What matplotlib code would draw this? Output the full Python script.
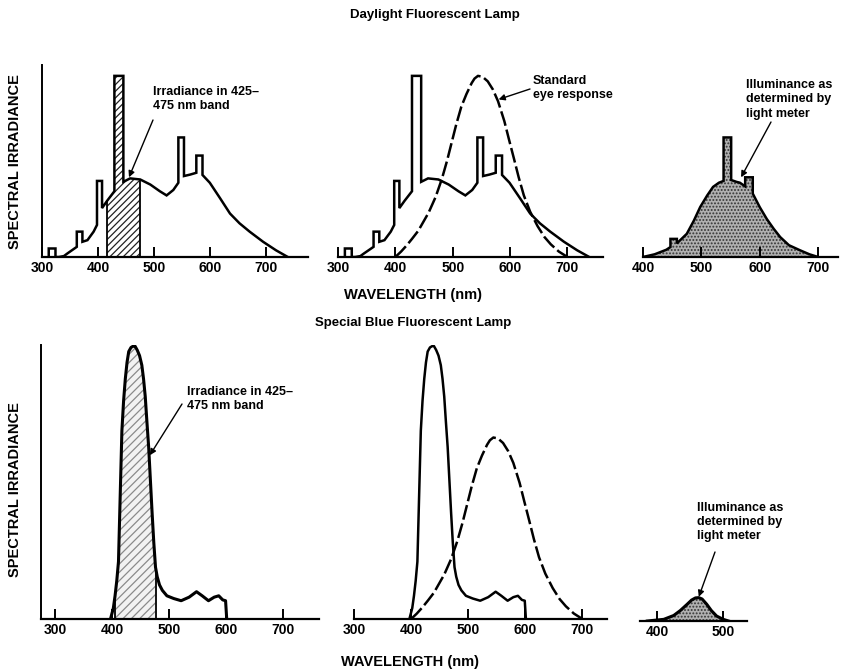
import numpy as np
import matplotlib
matplotlib.use('Agg')
import matplotlib.pyplot as plt

plt.rcParams['font.family'] = ['Liberation Sans Narrow', 'Liberation Sans', 'DejaVu Sans']
plt.rcParams['font.weight'] = 'bold'
plt.rcParams['hatch.linewidth'] = 0.9

# ---- data (wavelength in nm, relative irradiance) ----
# daylight fluorescent lamp (mercury lines show as narrow spikes)
day_wl = [312, 312, 324, 324, 330, 339, 345, 362, 362, 372, 372, 381, 392, 398, 398,
          407, 407, 416, 429, 429, 445, 445, 457, 475, 493, 510, 522, 534, 543, 543,
          553, 553, 564, 575, 575, 586, 586, 599, 617, 635, 652, 670, 694, 717, 738]
day_irr = [0, 4.7, 4.7, 0, 0, 0.5, 1.9, 5.6, 14, 14, 8.4, 9.3, 14, 17.7, 42,
           42, 27, 31, 36.3, 100, 100, 41.5, 43.4, 42.8, 40, 36.3, 34, 37, 41, 66,
           66, 44.7, 45.5, 46.5, 56, 56, 45.3, 41, 32.6, 24, 18.6, 14, 8.4, 3.7, 0]

# standard eye response (hand drawn, peak = 100)
eye_wl = [400, 410, 420, 429, 440, 458, 470, 481, 490, 498, 506, 515, 524, 533, 538,
          544, 552, 561, 570, 579, 590, 598, 607, 615, 624, 635, 648, 660, 671, 685, 700]
eye_val = [0, 3, 6.5, 10, 14.5, 24.5, 33, 43, 53, 63, 73, 83, 90, 96, 98.5,
           100, 99.5, 97, 92.5, 86, 75, 65, 54, 44, 34, 25, 17, 11, 7, 3, 0]

# eye-weighted daylight spectrum (what the light meter sees)
day_meter_wl = [400, 420, 440, 447, 447, 458, 458, 475, 487, 498, 510, 520, 530, 538, 538,
                551, 551, 560, 566, 575, 575, 588, 588, 600, 612, 624, 635, 650, 669, 685, 700]
day_meter_val = [0, 1.5, 4, 5.5, 10, 10, 7.5, 12.8, 20, 27.6, 34, 38.7, 41, 42, 66,
                 66, 42.5, 41.5, 41, 39, 44, 44, 35, 27.5, 21, 15.5, 11, 6.5, 3.7, 1.5, 0]

# special blue fluorescent lamp
blue_wl = [397, 402, 405, 408, 411, 414, 417, 420, 423, 426, 429, 433, 437, 440, 444,
           448, 452, 455, 458, 461, 464, 467, 470, 473, 476, 479, 483, 488, 496, 508,
           521, 535, 548, 558, 569, 579, 587, 594, 599, 601]
blue_irr = [0, 4, 8.5, 14, 21, 45, 69, 80, 88, 94, 98, 99.5, 100, 100, 98.5,
            96.5, 93, 88, 81.5, 72, 63, 51, 39, 28, 19, 15.5, 12.5, 10.5, 8.5, 7.5,
            6.7, 8, 10, 8.5, 6.7, 8, 8.5, 7, 6.7, 0]

blue_meter_wl = [385, 410, 425, 435, 445, 452, 458, 463, 468, 475, 482, 490, 500, 508]
blue_meter_val = [0, 0.6, 2, 3.8, 6, 7.6, 8.4, 8.5, 8, 6.1, 3.8, 1.8, 0.6, 0]

day_band = (416, 475)
blue_band = (405, 476)
eye_scale_day = 1.0
eye_scale_blue = 0.665

ticks_full = [300, 400, 500, 600, 700]

W, H = 854, 670
fig = plt.figure(figsize=(W / 100, H / 100), dpi=100)
plain = ['Liberation Sans', 'DejaVu Sans']


def make_axes(left, right, base, top, xlim, ylim, ticks, yaxis=False):
    ax = fig.add_axes([left / W, (H - base) / H, (right - left) / W, (base - top) / H])
    ax.set_xlim(*xlim)
    ax.set_ylim(*ylim)
    for s in ['top', 'right']:
        ax.spines[s].set_visible(False)
    ax.spines['left'].set_visible(yaxis)
    ax.spines['bottom'].set_linewidth(1.6)
    ax.spines['left'].set_linewidth(1.4)
    ax.set_yticks([])
    ax.set_xticks(ticks)
    ax.tick_params(axis='x', direction='in', length=7, width=1.4, pad=3, labelsize=10)
    for lab in ax.get_xticklabels():
        lab.set_fontweight('bold')
    ax.patch.set_alpha(0)
    return ax


def band_fill(ax, wl, val, band, **kw):
    wl = np.asarray(wl, float)
    val = np.asarray(val, float)
    m = (wl >= band[0]) & (wl <= band[1])
    x = np.concatenate([[band[0]], wl[m], [band[1]]])
    y = np.concatenate([[np.interp(band[0], wl, val)], val[m], [np.interp(band[1], wl, val)]])
    ax.fill_between(x, 0, y, **kw)
    ax.vlines([band[0], band[1]], 0, [y[0], y[-1]], color='black', lw=1.3)


def arrow(ax, xy, tail):
    ax.annotate('', xy=xy, xycoords='data', xytext=(tail[0], H - tail[1]),
                textcoords='figure pixels',
                arrowprops=dict(arrowstyle='-|>', color='black', lw=1.0,
                                mutation_scale=9, shrinkA=0, shrinkB=0))


def note(x, y, s):
    fig.text(x / W, (H - y) / H, s, ha='left', va='top', fontsize=9,
             fontweight='bold', linespacing=1.25)


lw = 1.8
dash = (0, (6, 1.6))

# ---------------- top row: daylight lamp ----------------
ax1 = make_axes(42, 308, 257, 65, (300, 774), (0, 106), ticks_full, yaxis=True)
band_fill(ax1, day_wl, day_irr, day_band, facecolor='white', edgecolor='#222222',
          hatch='/////', linewidth=0)
ax1.plot(day_wl, day_irr, color='black', lw=lw, solid_joinstyle='miter')
arrow(ax1, (455, 44), (153, 120))
note(153, 86, 'Irradiance in 425–\n475 nm band')

ax2 = make_axes(338, 603, 257, 65, (305, 762), (0, 106), ticks_full)
ax2.plot(day_wl, day_irr, color='black', lw=lw, solid_joinstyle='miter')
ax2.plot(eye_wl, np.array(eye_val) * eye_scale_day, color='black', lw=lw, linestyle=dash)
arrow(ax2, (580, 87), (530, 89))
note(533, 75, 'Standard\neye response')

ax3 = make_axes(643, 838, 257, 65, (400, 734), (0, 106), [400, 500, 600, 700])
ax3.fill_between(day_meter_wl, 0, day_meter_val, facecolor='#b0b0b0',
                 edgecolor='#333333', hatch='.....', linewidth=0)
ax3.plot(day_meter_wl, day_meter_val, color='black', lw=lw, solid_joinstyle='miter')
arrow(ax3, (568, 44), (771, 122))
note(746, 79, 'Illuminance as\ndetermined by\nlight meter')

fig.text(435 / W, (H - 15) / H, 'Daylight Fluorescent Lamp', ha='center', va='center',
         fontsize=9.5, fontweight='bold', family=plain)
fig.text(413 / W, (H - 295) / H, 'WAVELENGTH (nm)', ha='center', va='center',
         fontsize=10.5, fontweight='bold', family=plain)
fig.text(15 / W, (H - 162) / H, 'SPECTRAL IRRADIANCE', ha='center', va='center',
         rotation=90, fontsize=10.5, fontweight='bold', family=plain)

# ---------------- bottom row: special blue lamp ----------------
ax4 = make_axes(41, 319, 619, 345, (275, 763), (0, 100.4), ticks_full, yaxis=True)
band_fill(ax4, blue_wl, blue_irr, blue_band, facecolor='#f2f2f2', edgecolor='#8a8a8a',
          hatch='////', linewidth=0)
ax4.plot(blue_wl, blue_irr, color='black', lw=lw + 0.4)
arrow(ax4, (466, 60), (182, 404))
note(187, 386, 'Irradiance in 425–\n475 nm band')

ax5 = make_axes(354, 607, 619, 345, (309, 743), (0, 100.4), ticks_full)
ax5.plot(blue_wl, blue_irr, color='black', lw=lw)
ax5.plot(eye_wl, np.array(eye_val) * eye_scale_blue, color='black', lw=lw, linestyle=dash)

ax6 = make_axes(640, 747, 621, 345, (374, 536), (0, 100.4), [400, 500])
ax6.fill_between(blue_meter_wl, 0, blue_meter_val, facecolor='#b0b0b0',
                 edgecolor='#333333', hatch='.....', linewidth=0)
ax6.plot(blue_meter_wl, blue_meter_val, color='black', lw=lw + 0.4)
arrow(ax6, (463, 8.8), (715, 552))
note(697, 502, 'Illuminance as\ndetermined by\nlight meter')

fig.text(413 / W, (H - 323) / H, 'Special Blue Fluorescent Lamp', ha='center', va='center',
         fontsize=9.5, fontweight='bold', family=plain)
fig.text(410 / W, (H - 662) / H, 'WAVELENGTH (nm)', ha='center', va='center',
         fontsize=10.5, fontweight='bold', family=plain)
fig.text(15 / W, (H - 490) / H, 'SPECTRAL IRRADIANCE', ha='center', va='center',
         rotation=90, fontsize=10.5, fontweight='bold', family=plain)

fig.savefig('out.png', dpi=100)
